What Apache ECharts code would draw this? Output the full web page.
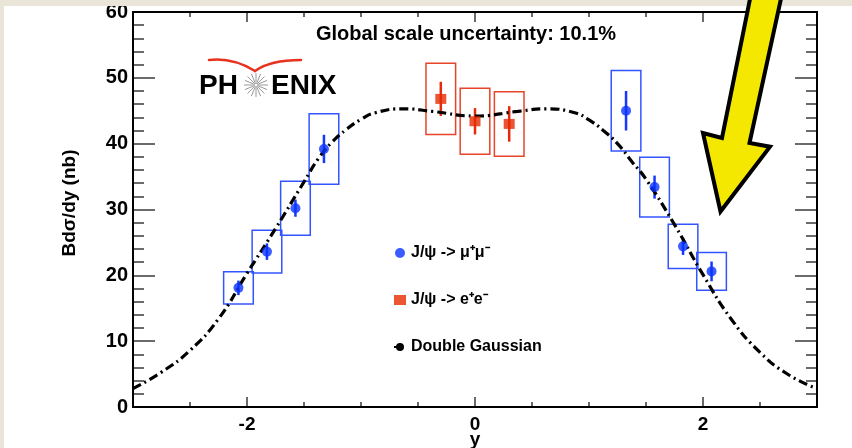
<!DOCTYPE html>
<html>
<head>
<meta charset="utf-8">
<script src="https://cdn.jsdelivr.net/npm/echarts@6/dist/echarts.min.js"></script>
<style>
  html, body { margin: 0; padding: 0; background: #ffffff; }
  #chart { width: 852px; height: 448px; }
</style>
</head>
<body>
<div id="chart"></div>
<script>
// J/psi -> mu+ mu- (forward / backward arms)
const muRapidity = [-2.075, -1.825, -1.575, -1.325, 1.325, 1.575, 1.825, 2.075];
const muYield    = [18.1, 23.6, 30.2, 39.2, 45.0, 33.4, 24.4, 20.6];
const muStat     = [1.1, 1.25, 1.3, 2.15, 3.0, 1.75, 1.3, 1.5];
const muSyst     = [2.45, 3.25, 4.1, 5.35, 6.1, 4.55, 3.35, 2.85];

// J/psi -> e+ e- (central arm)
const eeRapidity = [-0.3, 0.0, 0.3];
const eeYield    = [46.8, 43.4, 43.0];
const eeStat     = [2.6, 2.0, 2.7];
const eeSyst     = [5.4, 5.0, 4.9];

// Double Gaussian fit curve
const fitRapidity = [-3, -2.75, -2.5, -2.25, -2, -1.75, -1.5, -1.375, -1.25, -1.125, -1, -0.875,
                     -0.625, -0.375, 0, 0.375, 0.625, 0.875, 1, 1.125, 1.25, 1.375, 1.5, 1.75,
                     2, 2.25, 2.5, 2.75, 3];
const fitYield    = [2.8, 5.3, 8.6, 13.4, 20.3, 27.1, 34.2, 37.7, 40.3, 42.2, 43.7, 44.7,
                     45.3, 44.9, 44.2, 44.9, 45.3, 44.7, 43.6, 42.0, 40.0, 37.3, 34.6, 27.7,
                     20.1, 13.3, 8.3, 4.9, 2.8];

const xTickLabels = [-2, 0, 2];
const yTickLabels = [0, 10, 20, 30, 40, 50, 60];

const muName = 'J/\u03c8 -> \u03bc\u207a\u03bc\u207b';
const eeName = 'J/\u03c8 -> e\u207ae\u207b';
const fitName = 'Double Gaussian';

const BOX_HALF = 0.13;
const FONT = '"Liberation Sans", Arial, Helvetica, sans-serif';
const TICK_COLOR = '#3a3a3a';

function uncertaintyRenderer(barColor, boxColor) {
  return function (params, api) {
    const x = api.value(0), y = api.value(1), stat = api.value(2), syst = api.value(3);
    const lo = api.coord([x - BOX_HALF, y - syst]);
    const hi = api.coord([x + BOX_HALF, y + syst]);
    const s0 = api.coord([x, y - stat]);
    const s1 = api.coord([x, y + stat]);
    return {
      type: 'group',
      children: [
        { type: 'rect',
          shape: { x: lo[0], y: hi[1], width: hi[0] - lo[0], height: lo[1] - hi[1] },
          style: { fill: 'none', stroke: boxColor, lineWidth: 1.5 } },
        { type: 'line',
          shape: { x1: s0[0], y1: s0[1], x2: s1[0], y2: s1[1] },
          style: { stroke: barColor, lineWidth: 2.5 } }
      ]
    };
  };
}

const muRows = muRapidity.map((x, i) => [x, muYield[i], muStat[i], muSyst[i]]);
const eeRows = eeRapidity.map((x, i) => [x, eeYield[i], eeStat[i], eeSyst[i]]);
const fitRows = fitRapidity.map((x, i) => [x, fitYield[i]]);

// PHENIX logo star rays
const starRays = [];
for (let k = 0; k < 16; k++) {
  const a = k * Math.PI / 8;
  starRays.push({
    type: 'line', z: 50,
    shape: { x1: 256 + 2.5 * Math.cos(a), y1: 85 + 2.5 * Math.sin(a),
             x2: 256 + 12 * Math.cos(a), y2: 85 + 12 * Math.sin(a) },
    style: { stroke: '#9a9a9a', lineWidth: 1 }
  });
}

const xMinor = (pos) => ({
  type: 'value', min: -3, max: 3, interval: 0.5, position: pos,
  axisLine: { show: true, onZero: false, lineStyle: { color: '#000', width: 2 } },
  axisTick: { show: true, inside: true, length: 5, lineStyle: { color: TICK_COLOR, width: 1.5 } },
  axisLabel: pos === 'bottom' ? {
    show: true, margin: 8, color: '#000', fontSize: 19, fontWeight: 'bold', fontFamily: FONT,
    formatter: v => (xTickLabels.indexOf(Math.round(v * 100) / 100) >= 0 ? String(Math.round(v)) : '')
  } : { show: false },
  splitLine: { show: false },
  name: pos === 'bottom' ? 'y' : '',
  nameLocation: 'middle', nameGap: 23, nameMoveOverlap: false,
  nameTextStyle: { color: '#000', fontSize: 19, fontWeight: 'bold', fontFamily: FONT }
});
const xMajor = (pos) => ({
  type: 'value', min: -3, max: 3, position: pos,
  axisLine: { show: false, onZero: false },
  axisTick: { show: true, inside: true, length: 10, customValues: xTickLabels,
              lineStyle: { color: TICK_COLOR, width: 1.5 } },
  axisLabel: { show: false },
  splitLine: { show: false }
});
const yAxisDef = (pos) => ({
  type: 'value', min: 0, max: 60, interval: 10, position: pos,
  axisLine: { show: true, onZero: false, lineStyle: { color: '#000', width: 2 } },
  axisTick: { show: true, inside: true, length: 22, lineStyle: { color: TICK_COLOR, width: 1.5 } },
  minorTick: { show: true, splitNumber: 5, length: 11, lineStyle: { color: TICK_COLOR, width: 1.5 } },
  axisLabel: pos === 'left' ? {
    show: true, margin: 5, color: '#000', fontSize: 20, fontWeight: 'bold', fontFamily: FONT,
    formatter: v => (yTickLabels.indexOf(v) >= 0 ? String(v) : '')
  } : { show: false },
  splitLine: { show: false }
});

const chart = echarts.init(document.getElementById('chart'), null, { renderer: 'canvas' });
chart.setOption({
  animation: false,
  backgroundColor: '#ffffff',
  grid: { left: 133, right: 35, top: 12, bottom: 41, containLabel: false, outerBoundsMode: 'none',
          show: true, borderColor: '#000', borderWidth: 2, backgroundColor: 'transparent' },
  xAxis: [xMinor('bottom'), xMajor('bottom'), xMinor('top'), xMajor('top')],
  yAxis: [yAxisDef('left'), yAxisDef('right')],
  legend: {
    orient: 'vertical', left: 393, top: 244, itemGap: 29, padding: 0,
    itemWidth: 12, itemHeight: 10,
    textStyle: { color: '#000', fontSize: 16, fontWeight: 'bold', fontFamily: FONT, lineHeight: 18 },
    data: [
      { name: muName, icon: 'circle' },
      { name: eeName, icon: 'rect' },
      { name: fitName }
    ]
  },
  series: [
    { type: 'custom', xAxisIndex: 0, yAxisIndex: 0, z: 3, silent: true,
      renderItem: uncertaintyRenderer('#1438ff', '#3355ff'),
      encode: { x: 0, y: 1 }, data: muRows },
    { type: 'custom', xAxisIndex: 0, yAxisIndex: 0, z: 3, silent: true,
      renderItem: uncertaintyRenderer('#e62a0a', '#e8442a'),
      encode: { x: 0, y: 1 }, data: eeRows },
    { name: fitName, type: 'line', xAxisIndex: 0, yAxisIndex: 0, z: 4,
      smooth: 0.5, symbol: 'none', showSymbol: false,
      itemStyle: { color: '#000' },
      lineStyle: { color: '#000', width: 3.2, type: [9, 4, 2, 4] },
      data: fitRows },
    { name: muName, type: 'scatter', xAxisIndex: 0, yAxisIndex: 0, z: 5,
      symbol: 'circle', symbolSize: 10, itemStyle: { color: '#0a33ff' },
      data: muRows.map(r => [r[0], r[1]]) },
    { name: eeName, type: 'scatter', xAxisIndex: 0, yAxisIndex: 0, z: 5,
      symbol: 'rect', symbolSize: [11, 10], itemStyle: { color: '#e62a00' },
      data: eeRows.map(r => [r[0], r[1]]) }
  ],
  graphic: [
    // frame margin strips
    { type: 'rect', z: 100, shape: { x: 0, y: 0, width: 852, height: 6 }, style: { fill: '#e9e5d8' } },
    { type: 'rect', z: 100, shape: { x: 0, y: 0, width: 4, height: 448 }, style: { fill: '#e9e5d8' } },
    // plot frame
    { type: 'rect', z: 110, shape: { x: 133, y: 12, width: 684, height: 395 },
      style: { fill: 'none', stroke: '#000', lineWidth: 2 } },
    // y-axis title
    { type: 'text', z: 50, x: 70, y: 203, rotation: Math.PI / 2,
      style: { text: 'Bd\u03c3/dy (nb)', fill: '#000', font: 'bold 19px ' + FONT,
               align: 'center', verticalAlign: 'middle' } },
    // title
    { type: 'text', z: 50, x: 466, y: 34,
      style: { text: 'Global scale uncertainty: 10.1%', fill: '#000', font: 'bold 20px ' + FONT,
               align: 'center', verticalAlign: 'middle' } },
    // PHENIX logo
    { type: 'text', z: 50, x: 199, y: 86,
      style: { text: 'PH', fill: '#000', font: 'bold 28px ' + FONT, align: 'left', verticalAlign: 'middle' } },
    { type: 'text', z: 50, x: 271, y: 86,
      style: { text: 'ENIX', fill: '#000', font: 'bold 28px ' + FONT, align: 'left', verticalAlign: 'middle' } },
    ...starRays,
    { type: 'circle', z: 50, shape: { cx: 256, cy: 85, r: 2 }, style: { fill: 'none', stroke: '#9a9a9a', lineWidth: 1 } },
    { type: 'bezierCurve', z: 50,
      shape: { x1: 209, y1: 60, cpx1: 226, cpy1: 58, cpx2: 242, cpy2: 63, x2: 255, y2: 71 },
      style: { fill: 'none', stroke: '#e8321e', lineWidth: 2.5, lineCap: 'round' } },
    { type: 'bezierCurve', z: 50,
      shape: { x1: 255, y1: 71, cpx1: 266, cpy1: 63, cpx2: 282, cpy2: 60, x2: 301, y2: 60 },
      style: { fill: 'none', stroke: '#e8321e', lineWidth: 2.5, lineCap: 'round' } },
    // highlight arrow
    { type: 'polygon', z: 120,
      shape: { points: [[751, -6], [782, -6], [749.5, 143], [770, 146.7], [720.5, 211.5], [703, 133], [722, 138]] },
      style: { fill: '#f4e800', stroke: '#000', lineWidth: 4, lineJoin: 'miter' } }
  ]
});
</script>
</body>
</html>
